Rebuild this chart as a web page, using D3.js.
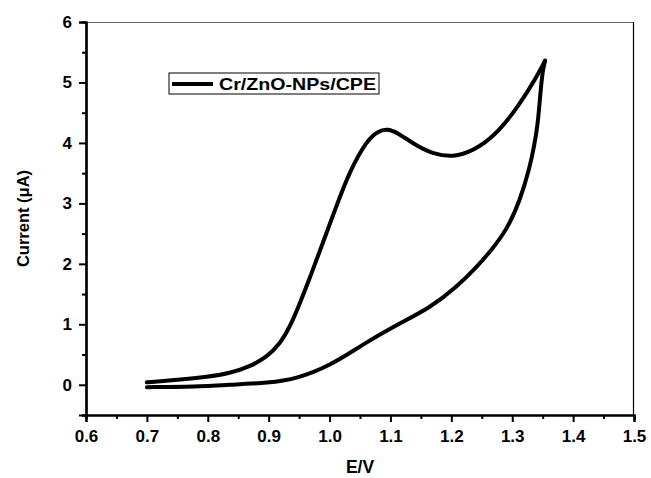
<!DOCTYPE html>
<html>
<head>
<meta charset="utf-8">
<script src="https://cdn.jsdelivr.net/npm/d3@7"></script>
<style>
  body { margin: 0; background: #fff; }
  text { font-family: "Liberation Sans", Arial, sans-serif; font-weight: bold; fill: #000; }
</style>
</head>
<body>
<div id="chart"></div>
<script>
// anodic sweep (upper branch) and return sweep (lower branch)
const forwardE = [0.70, 0.75, 0.80, 0.836, 0.869, 0.897, 0.919, 0.935, 0.951, 0.968, 0.984, 1.012, 1.034, 1.061, 1.08, 1.095, 1.11, 1.137, 1.17, 1.209, 1.247, 1.28, 1.313, 1.34, 1.354];
const forwardI = [0.04, 0.08, 0.13, 0.19, 0.30, 0.46, 0.68, 0.96, 1.34, 1.78, 2.21, 2.98, 3.55, 4.04, 4.20, 4.23, 4.18, 3.99, 3.81, 3.76, 3.93, 4.21, 4.65, 5.09, 5.36];
const reverseE = [1.354, 1.350, 1.346, 1.342, 1.336, 1.329, 1.313, 1.291, 1.266, 1.242, 1.209, 1.165, 1.110, 1.055, 1.0, 0.946, 0.90, 0.836, 0.78, 0.70];
const reverseI = [5.36, 5.20, 4.80, 4.30, 3.95, 3.60, 3.05, 2.56, 2.23, 1.95, 1.62, 1.27, 0.99, 0.67, 0.31, 0.10, 0.03, 0.0, -0.03, -0.04];

const xTicks = [0.6, 0.7, 0.8, 0.9, 1.0, 1.1, 1.2, 1.3, 1.4, 1.5];
const yTicks = [0, 1, 2, 3, 4, 5, 6];
const seriesName = "Cr/ZnO-NPs/CPE";

const W = 651, H = 478;
const margin = { top: 22, right: 17, bottom: 63, left: 86 },
      width = W - margin.left - margin.right,
      height = H - margin.top - margin.bottom;

const svg = d3.select("#chart")
    .append("svg")
    .attr("width", W)
    .attr("height", H)
    .append("g")
    .attr("transform", `translate(${margin.left},${margin.top})`);

const x = d3.scaleLinear().domain([0.6, 1.5]).range([0, width]);
const y = d3.scaleLinear().domain([-0.5, 6]).range([height, 0]);

// frame: thin top and right
svg.append("line")
    .attr("x1", 0).attr("x2", width).attr("y1", 0.5).attr("y2", 0.5)
    .style("stroke", "#666").style("stroke-width", 1.2);
svg.append("line")
    .attr("x1", width - 0.5).attr("x2", width - 0.5).attr("y1", 0).attr("y2", height)
    .style("stroke", "#000").style("stroke-width", 1.2);

// minor ticks
const xMinor = d3.range(0.65, 1.5, 0.1);
const yMinor = d3.range(-0.5, 6, 1);
const xAxisMinor = svg.append("g")
    .attr("transform", `translate(0,${height})`)
    .call(d3.axisBottom(x).tickValues(xMinor).tickSize(4).tickFormat(""));
const yAxisMinor = svg.append("g")
    .call(d3.axisLeft(y).tickValues(yMinor).tickSize(4).tickFormat(""));

const xAxis = svg.append("g")
    .attr("transform", `translate(0,${height})`)
    .call(d3.axisBottom(x).tickValues(xTicks).tickSize(7).tickPadding(8).tickFormat(d3.format(".1f")));
const yAxis = svg.append("g")
    .call(d3.axisLeft(y).tickValues(yTicks).tickSize(7).tickPadding(7).tickFormat(d3.format("d")));

[xAxis, yAxis, xAxisMinor, yAxisMinor].forEach(g => {
    g.select(".domain").style("stroke", "#000").style("stroke-width", 2.2);
    g.selectAll(".tick line").style("stroke", "#000").style("stroke-width", 2);
    g.selectAll(".tick text")
        .style("font-family", "'Liberation Sans', Arial, sans-serif")
        .style("font-weight", "bold")
        .style("font-size", "17px")
        .style("fill", "#000");
});

// CV loop, each sweep drawn as its own smoothed path
const line = d3.line()
    .x(d => x(d.e))
    .y(d => y(d.i))
    .curve(d3.curveBasis);

const sweeps = [
    forwardE.map((e, k) => ({ e, i: forwardI[k] })),
    reverseE.map((e, k) => ({ e, i: reverseI[k] }))
];

svg.selectAll("path.cv")
    .data(sweeps)
    .enter()
    .append("path")
    .attr("class", "cv")
    .attr("d", line)
    .style("fill", "none")
    .style("stroke", "#000")
    .style("stroke-width", 4)
    .style("stroke-linecap", "round")
    .style("stroke-linejoin", "round");

// legend
const lg = svg.append("g").attr("transform", `translate(${169 - margin.left},${73 - margin.top})`);
lg.append("rect")
    .attr("width", 210).attr("height", 21)
    .style("fill", "#fff").style("stroke", "#000").style("stroke-width", 1);
lg.append("line")
    .attr("x1", 3).attr("x2", 44).attr("y1", 11).attr("y2", 11)
    .style("stroke", "#000").style("stroke-width", 4);
lg.append("text")
    .attr("x", 50).attr("y", 17)
    .attr("textLength", 157)
    .attr("lengthAdjust", "spacingAndGlyphs")
    .style("font-size", "16.5px")
    .text(seriesName);

// axis titles
svg.append("text")
    .attr("x", width / 2)
    .attr("y", height + 58)
    .attr("text-anchor", "middle")
    .style("font-size", "17.5px")
    .text("E/V");

svg.append("text")
    .attr("transform", "rotate(-90)")
    .attr("x", -height / 2)
    .attr("y", -57)
    .attr("text-anchor", "middle")
    .style("font-size", "16.5px")
    .text("Current (μA)");
</script>
</body>
</html>
